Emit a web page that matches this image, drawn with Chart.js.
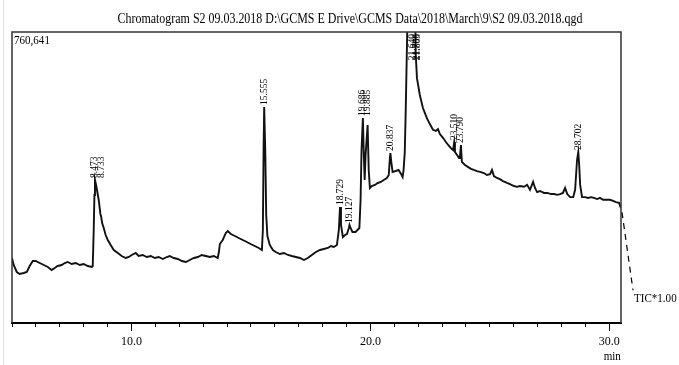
<!DOCTYPE html>
<html>
<head>
<meta charset="utf-8">
<script src="https://cdn.jsdelivr.net/npm/chart.js@4.4.1/dist/chart.umd.min.js"></script>
<style>
  html, body { margin: 0; padding: 0; background: #fff; }
  #wrap { width: 679px; height: 365px; }
</style>
</head>
<body>
<div id="wrap"><canvas id="chromChart" width="679" height="365"></canvas></div>
<script>
// retention time (min) and TIC intensity (x1000 counts)
const retTimes = [
  5.00, 5.07, 5.20, 5.32, 5.49, 5.62, 5.74, 5.87, 5.99, 6.16, 6.33, 6.50, 6.66, 6.79, 6.91,
  7.08, 7.21, 7.33, 7.50, 7.67, 7.84, 8.00, 8.17, 8.34, 8.38, 8.42, 8.45, 8.473, 8.52, 8.63,
  8.70, 8.733, 8.77, 8.84, 8.92, 9.01, 9.13, 9.26, 9.43, 9.59, 9.76, 9.89, 10.01, 10.18, 10.30,
  10.47, 10.64, 10.81, 10.98, 11.14, 11.31, 11.48, 11.60, 11.77, 11.94, 12.11, 12.28, 12.44, 12.61, 12.78,
  12.94, 13.11, 13.28, 13.45, 13.61, 13.66, 13.70, 13.82, 13.95, 14.03, 14.16, 14.33, 14.49, 14.66, 14.83,
  14.99, 15.16, 15.33, 15.46, 15.50, 15.53, 15.555, 15.60, 15.64, 15.69, 15.79, 15.92, 16.04, 16.21, 16.38,
  16.55, 16.71, 16.88, 17.05, 17.22, 17.38, 17.55, 17.72, 17.89, 18.05, 18.22, 18.35, 18.47, 18.60, 18.68,
  18.729, 18.77, 18.85, 18.94, 19.02, 19.10, 19.127, 19.17, 19.25, 19.38, 19.46, 19.54, 19.59, 19.63, 19.686,
  19.72, 19.76, 19.80, 19.885, 19.93, 19.98, 20.06, 20.19, 20.31, 20.44, 20.56, 20.69, 20.77, 20.81, 20.837,
  20.89, 20.93, 21.06, 21.18, 21.31, 21.35, 21.39, 21.44, 21.48, 21.52, 21.56, 21.64, 21.71, 21.786, 21.83,
  21.865, 21.90, 21.95, 22.07, 22.20, 22.36, 22.49, 22.62, 22.74, 22.83, 22.91, 23.04, 23.16, 23.29, 23.37,
  23.46, 23.51, 23.54, 23.63, 23.71, 23.75, 23.79, 23.83, 23.96, 24.08, 24.21, 24.33, 24.46, 24.59, 24.75,
  24.88, 25.01, 25.09, 25.17, 25.30, 25.42, 25.55, 25.72, 25.84, 26.01, 26.14, 26.26, 26.43, 26.56, 26.68,
  26.81, 26.89, 26.98, 27.10, 27.27, 27.40, 27.57, 27.69, 27.82, 27.94, 28.06, 28.15, 28.24, 28.36, 28.49,
  28.57, 28.65, 28.702, 28.74, 28.78, 28.86, 28.99, 29.11, 29.24, 29.36, 29.49, 29.61, 29.74, 29.90, 30.03,
  30.16, 30.28, 30.41, 30.49
];
const ticKCounts = [
  169.9, 151.6, 133.3, 128.1, 130.7, 133.3, 149.0, 162.1, 162.1, 156.8, 151.6, 146.4, 138.5, 143.8, 149.0,
  151.6, 156.8, 159.5, 154.2, 156.8, 151.6, 154.2, 149.0, 146.4, 149.0, 243.1, 334.6, 373.8, 360.7, 321.5,
  285.0, 278.0, 262.0, 248.3, 230.0, 217.0, 203.9, 190.8, 183.0, 175.1, 169.9, 172.5, 177.8, 183.0, 175.1,
  177.8, 172.5, 175.1, 169.9, 172.5, 167.3, 172.5, 175.1, 169.9, 167.3, 162.1, 159.5, 164.7, 169.9, 172.5,
  177.8, 175.1, 172.5, 175.1, 169.9, 185.6, 206.5, 217.0, 235.3, 240.5, 232.6, 227.4, 222.2, 217.0, 211.7,
  206.5, 201.3, 196.1, 190.8, 243.1, 452.2, 564.6, 452.2, 282.3, 227.4, 203.9, 190.8, 185.6, 180.4, 183.0,
  177.8, 175.1, 172.5, 169.9, 164.7, 169.9, 177.8, 185.6, 190.8, 193.4, 196.1, 201.3, 198.7, 203.9, 243.1,
  303.2, 256.2, 224.8, 230.0, 232.6, 248.3, 256.2, 248.3, 237.9, 237.9, 243.1, 248.3, 321.5, 452.2, 535.9,
  452.2, 373.8, 440.0, 517.6, 399.9, 352.9, 358.1, 360.7, 366.0, 368.6, 373.8, 379.0, 386.9, 426.1, 444.4,
  413.0, 394.7, 397.3, 399.9, 386.9, 381.6, 399.9, 447.0, 556.8, 687.5, 820, 980, 780, 920, 770,
  850, 700, 640, 596, 562, 536, 520, 505, 502, 507, 494, 484, 473, 463, 457,
  452, 473, 447, 439, 431, 436, 465, 421, 413, 408, 403, 400, 397, 395, 392,
  387, 389, 400, 384, 379, 376, 371, 366, 363, 358, 356, 358, 356, 361, 348,
  369, 353, 342, 345, 340, 340, 337, 337, 335, 337, 340, 353, 337, 329, 329,
  348, 426, 447, 413, 361, 329, 329, 327, 329, 327, 324, 327, 322, 322, 322,
  319, 316, 314, 300
];

// peak retention times printed above the peaks
const peakTimes = [8.473, 8.733, 15.555, 18.729, 19.127, 19.686, 19.885, 20.837,
                   21.640, 21.786, 21.865, 23.510, 23.790, 28.702];

const majorTicks = [10, 20, 30];
const chartTitle = 'Chromatogram S2 09.03.2018 D:\\GCMS E Drive\\GCMS Data\\2018\\March\\9\\S2 09.03.2018.qgd';
const maxCountLabel = '760,641';
const yMaxK = 760.641;
const traceName = 'TIC*1.00';

const serif = '"Liberation Serif", "Times New Roman", serif';

const points = retTimes.map((t, i) => ({ x: t, y: ticKCounts[i] }));

// the printout uses a narrow serif, so squeeze text sideways
function narrowText(ctx, text, x, y, align, squeeze) {
  ctx.save();
  ctx.translate(x, y);
  ctx.scale(squeeze, 1);
  ctx.textAlign = align;
  ctx.fillText(text, 0, 0);
  ctx.restore();
}

// frame, title, peak labels and the TIC marker
const chromDecor = {
  id: 'chromDecor',
  afterDraw(chart) {
    const ctx = chart.ctx;
    const a = chart.chartArea;
    const xs = chart.scales.x;
    const ys = chart.scales.y;
    ctx.save();

    // faint page edge
    ctx.strokeStyle = '#e2e2e2';
    ctx.lineWidth = 1;
    ctx.beginPath();
    ctx.moveTo(3.5, 0);
    ctx.lineTo(3.5, 365);
    ctx.stroke();

    // box
    ctx.strokeStyle = '#333';
    ctx.lineWidth = 1.5;
    ctx.beginPath();
    ctx.moveTo(a.left, a.bottom);
    ctx.lineTo(a.left, a.top);
    ctx.lineTo(a.right, a.top);
    ctx.lineTo(a.right, a.bottom);
    ctx.stroke();

    // longer ticks at the labelled minutes
    ctx.strokeStyle = '#000';
    ctx.lineWidth = 1;
    majorTicks.forEach(v => {
      const px = Math.round(xs.getPixelForValue(v)) + 0.5;
      ctx.beginPath();
      ctx.moveTo(px, a.bottom);
      ctx.lineTo(px, a.bottom + 8);
      ctx.stroke();
    });

    ctx.fillStyle = '#000';
    ctx.textBaseline = 'middle';

    ctx.font = '14px ' + serif;
    const titleW = ctx.measureText(chartTitle).width;
    narrowText(ctx, chartTitle, 350, 19, 'center', 465 / titleW);

    ctx.font = '13px ' + serif;
    narrowText(ctx, maxCountLabel, a.left + 2, a.top + 9, 'left', 0.85);
    narrowText(ctx, 'min', xs.getPixelForValue(30) + 3, 357, 'center', 0.85);

    // dashed lead to the trace name
    const last = points[points.length - 1];
    const lx = xs.getPixelForValue(last.x);
    const ly = ys.getPixelForValue(last.y);
    ctx.setLineDash([6, 5]);
    ctx.lineWidth = 1.2;
    ctx.beginPath();
    ctx.moveTo(lx + 1, ly + 4);
    ctx.lineTo(lx + 12, ly + 82);
    ctx.stroke();
    ctx.setLineDash([]);
    narrowText(ctx, traceName, lx + 13, ly + 90, 'left', 0.85);

    // vertical retention time labels
    ctx.font = '9.5px ' + serif;
    peakTimes.forEach(pt => {
      let top = 0;
      retTimes.forEach((t, i) => {
        if (Math.abs(t - pt) <= 0.27) top = Math.max(top, ticKCounts[i]);
      });
      const px = xs.getPixelForValue(pt);
      ctx.save();
      if (top >= yMaxK) {
        ctx.translate(px + 3, a.top + 2);
        ctx.rotate(-Math.PI / 2);
        ctx.textAlign = 'right';
      } else {
        ctx.translate(px, ys.getPixelForValue(top) - 2);
        ctx.rotate(-Math.PI / 2);
        ctx.textAlign = 'left';
      }
      ctx.fillText(pt.toFixed(3), 0, 0);
      ctx.restore();
    });

    ctx.restore();
  }
};

const ctx = document.getElementById('chromChart').getContext('2d');
new Chart(ctx, {
  type: 'line',
  data: {
    datasets: [{
      label: traceName,
      data: points,
      borderColor: '#111',
      borderWidth: 1.9,
      pointRadius: 0,
      tension: 0,
      fill: false
    }]
  },
  options: {
    responsive: false,
    animation: false,
    layout: { padding: { left: 12, right: 58, top: 32, bottom: 0 } },
    plugins: {
      legend: { display: false },
      tooltip: { enabled: false },
      title: { display: false }
    },
    scales: {
      x: {
        type: 'linear',
        min: 5,
        max: 30.49,
        afterFit: scale => { scale.height = 42; },
        border: { display: true, color: '#000', width: 2 },
        grid: { drawOnChartArea: false, drawTicks: true, tickLength: 4, color: '#000' },
        ticks: {
          stepSize: 1,
          autoSkip: false,
          includeBounds: false,
          maxRotation: 0,
          padding: 8,
          color: '#000',
          font: { family: serif, size: 12 },
          callback: v => majorTicks.includes(v) ? v.toFixed(1) : ''
        }
      },
      y: {
        display: false,
        min: 0,
        max: yMaxK
      }
    }
  },
  plugins: [chromDecor]
});
</script>
</body>
</html>
